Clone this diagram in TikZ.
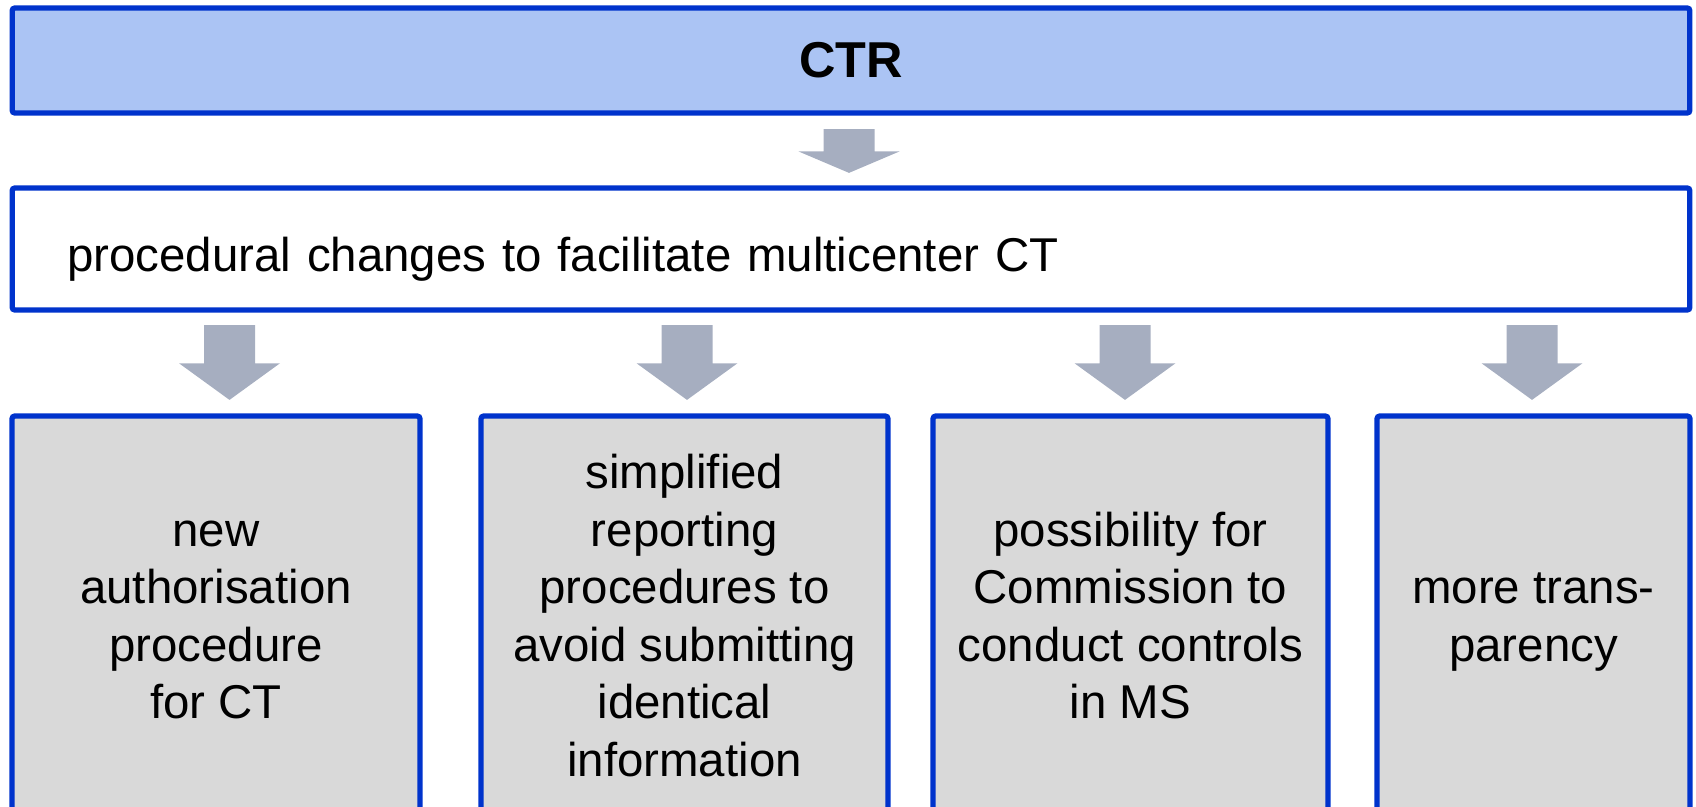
\documentclass[tikz,border=0pt]{standalone}
\usepackage{fontspec}
\setmainfont{Liberation Sans}
\usetikzlibrary{calc}
\definecolor{ctrblue}{RGB}{0,51,204}
\definecolor{ctrlight}{RGB}{171,196,244}
\definecolor{ctrgray}{RGB}{217,217,217}
\definecolor{arrowgray}{RGB}{166,174,192}
% block arrow from (#1) down to its tip (#2)
\newcommand{\fatarrow}[2]{%
  \fill[arrowgray] ($(#1)+(-25.5,0)$) -- ($(#1)+(25.5,0)$) -- ($(#1)!0.51!(#2)+(25.5,0)$)
    -- ($(#1)!0.51!(#2)+(50.5,0)$) -- (#2) -- ($(#1)!0.51!(#2)+(-50.5,0)$)
    -- ($(#1)!0.51!(#2)+(-25.5,0)$) -- cycle;}
\begin{document}
\begin{tikzpicture}[x=0.02cm, y=-0.02cm,
    ctrbox/.style={draw=ctrblue, line width=3pt, rounded corners=1.5pt, inner sep=0pt},
    headbox/.style={ctrbox, fill=ctrlight, font=\fontsize{28.7}{34}\selectfont\bfseries},
    itembox/.style={ctrbox, fill=ctrgray, minimum height=8.2cm, align=center,
      font=\fontsize{27}{32.7}\selectfont}]
        \useasboundingbox (0,0) rectangle (1696,807);
        \clip (0,0) rectangle (1696,807);
        %header
        \node[headbox, minimum width=33.56cm, minimum height=2.1cm] (ctr) at (851,60.5) {CTR};
        %procedural changes
        \node[ctrbox, fill=white, minimum height=2.44cm, text width=31.36cm, inner xsep=1.1cm,
          text height=1.12cm, text depth=0.2cm, align=left, font=\fontsize{27}{32.7}\selectfont]
          (proc) at (851,249) {procedural changes to facilitate multicenter CT};
        %outcomes
        \node[itembox, minimum width=8.16cm] (b1) at (216,621) {\strut new\\authorisation\\procedure\\for CT\strut};
        \node[itembox, minimum width=8.14cm] (b2) at (684.5,621) {\strut simplified\\reporting\\procedures to\\avoid submitting\\identical\\information\strut};
        \node[itembox, minimum width=7.9cm] (b3) at (1130.5,621) {\strut possibility for\\Commission to\\conduct controls\\in MS\strut};
        \node[itembox, minimum width=6.26cm] (b4) at (1533.5,621) {\strut more trans-\\parency\strut};
        %arrows
        \coordinate (s) at ($(ctr.south)+(-2,13.5)$);
        \coordinate (e) at ($(proc.north)+(-2,-12.5)$);
        \fatarrow{s}{e}
        \foreach \b/\dx in {b1/13.5,b2/2.5,b3/-5.5,b4/-1.5}{
          \coordinate (s) at ($(proc.south -| \b.north)+(\dx,12.5)$);
          \coordinate (e) at ($(\b.north)+(\dx,-13.5)$);
          \fatarrow{s}{e}
        }
        \end{tikzpicture}
\end{document}
